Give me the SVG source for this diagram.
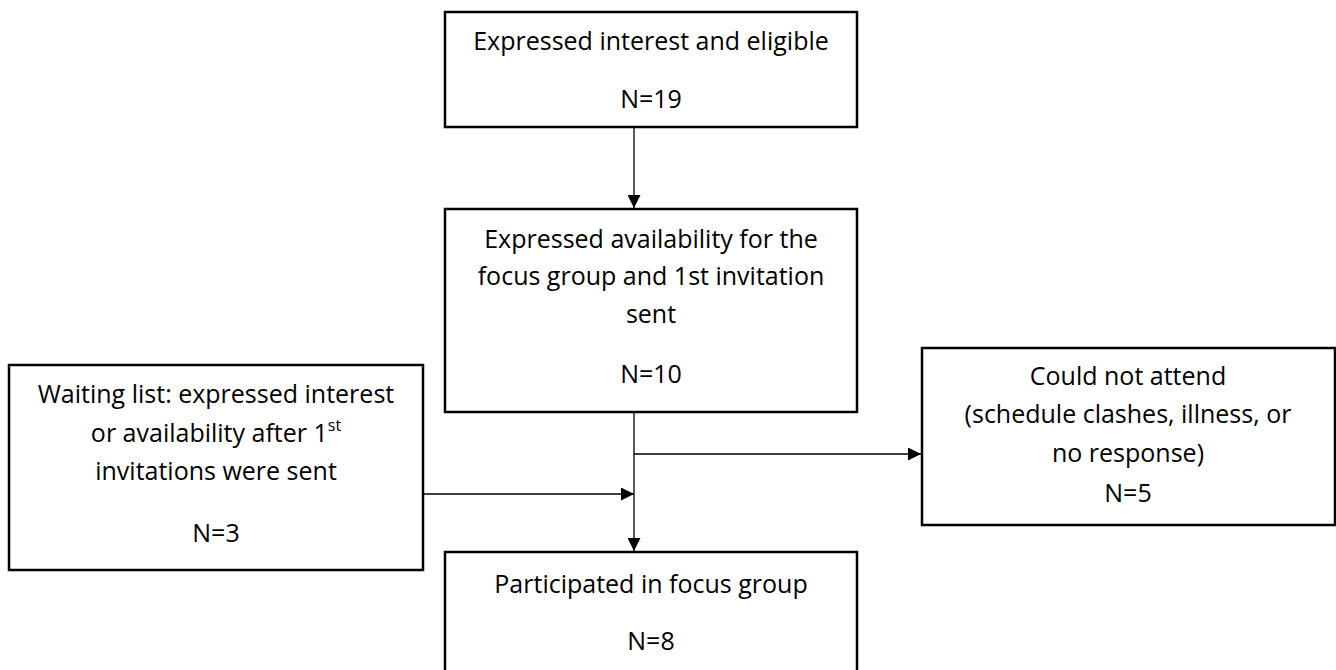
<svg xmlns="http://www.w3.org/2000/svg" width="1336" height="670" viewBox="0 0 1336 670">
<defs>
<style>
.box{fill:#fff;stroke:#000;stroke-width:2.5}
.t{font-family:"Open Sans",Lato,sans-serif;font-size:25px;fill:#000;text-anchor:middle}
.c{stroke:#000;stroke-width:1.3;fill:none}
</style>
<marker id="ah" viewBox="0 0 10 10" refX="10" refY="5" markerWidth="14" markerHeight="13" markerUnits="userSpaceOnUse" orient="auto">
<path d="M0,0 L10,5 L0,10 z" fill="#000"/>
</marker>
</defs>
<rect width="1336" height="670" fill="#fff"/>
<g id="connectors">
<line class="c" x1="634" y1="128" x2="634" y2="208" marker-end="url(#ah)"/>
<line class="c" x1="634" y1="413" x2="634" y2="551" marker-end="url(#ah)"/>
<line class="c" x1="634" y1="454" x2="921" y2="454" marker-end="url(#ah)"/>
<line class="c" x1="424" y1="494" x2="634" y2="494" marker-end="url(#ah)"/>
</g>
<g id="n1">
<rect class="box" x="445" y="12" width="412" height="115"/>
<text class="t" x="651" y="50">Expressed interest and eligible</text>
<text class="t" x="651" y="108">N=19</text>
</g>
<g id="n2">
<rect class="box" x="445" y="209" width="412" height="203"/>
<text class="t" x="651" y="248">Expressed availability for the</text>
<text class="t" x="651" y="285">focus group and 1st invitation</text>
<text class="t" x="651" y="323">sent</text>
<text class="t" x="651" y="383">N=10</text>
</g>
<g id="n3">
<rect class="box" x="9" y="365" width="414" height="205"/>
<text class="t" x="216" y="403">Waiting list: expressed interest</text>
<text class="t" x="216" y="442">or availability after 1<tspan font-size="16" dy="-11">st</tspan></text>
<text class="t" x="216" y="480">invitations were sent</text>
<text class="t" x="216" y="542">N=3</text>
</g>
<g id="n4">
<rect class="box" x="922" y="348" width="413" height="177"/>
<text class="t" x="1128" y="385">Could not attend</text>
<text class="t" x="1128" y="423">(schedule clashes, illness, or</text>
<text class="t" x="1128" y="462">no response)</text>
<text class="t" x="1128" y="502">N=5</text>
</g>
<g id="n5">
<rect class="box" x="445" y="552" width="412" height="130"/>
<text class="t" x="651" y="593">Participated in focus group</text>
<text class="t" x="651" y="650">N=8</text>
</g>
</svg>
